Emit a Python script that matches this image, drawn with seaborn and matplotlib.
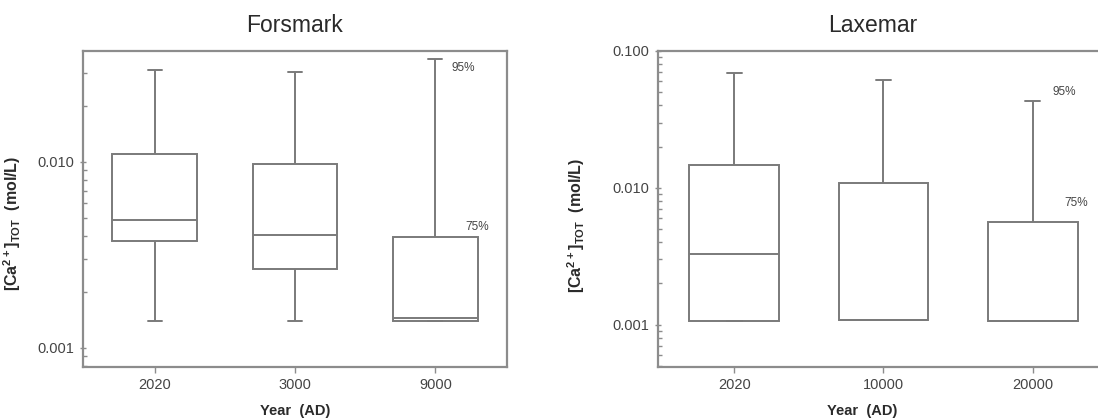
import numpy as np
import pandas as pd
import matplotlib
matplotlib.use("Agg")
import matplotlib.pyplot as plt
import matplotlib.ticker as mticker
import seaborn as sns

# ---------------- data ----------------
fors_years = ["2020", "3000", "9000"]
fors_p5 = [0.0014, 0.0014, 0.0014]
fors_q1 = [0.00376, 0.00266, 0.0014]
fors_med = [0.00488, 0.00405, 0.00145]
fors_q3 = [0.0110, 0.0097, 0.00397]
fors_p95 = [0.0313, 0.0305, 0.0356]

lax_years = ["2020", "10000", "20000"]
lax_p5 = [0.00107, 0.00108, 0.00107]
lax_q1 = [0.00107, 0.00108, 0.00107]
lax_med = [0.0033, 0.00108, 0.00107]
lax_q3 = [0.0148, 0.0109, 0.00567]
lax_p95 = [0.0695, 0.0614, 0.0434]

titles = ["Forsmark", "Laxemar"]
ylabel = r"[Ca$^{\mathbf{2+}}$]$_{\mathbf{TOT}}$  (mol/L)"
xlabel = "Year  (AD)"


def long_frame(years, p5, q1, med, q3, p95):
    rows = []
    for i, y in enumerate(years):
        for v in (p5[i], q1[i], med[i], q3[i], p95[i]):
            rows.append({"year": y, "conc": v})
    return pd.DataFrame(rows)


df_f = long_frame(fors_years, fors_p5, fors_q1, fors_med, fors_q3, fors_p95)
df_l = long_frame(lax_years, lax_p5, lax_q1, lax_med, lax_q3, lax_p95)

sns.set_theme(style="ticks")
plt.rcParams["font.family"] = ["Liberation Sans", "DejaVu Sans"]
plt.rcParams["mathtext.fontset"] = "custom"
plt.rcParams["mathtext.rm"] = "Liberation Sans"
plt.rcParams["mathtext.bf"] = "Liberation Sans:bold"

fig = plt.figure(figsize=(10.98, 4.19), dpi=100)
W, H = 1098.0, 419.0
ax1 = fig.add_axes([83 / W, (H - 367) / H, 424 / W, 316 / H])
ax2 = fig.add_axes([658 / W, (H - 367) / H, 451 / W, 316 / H])

line_c = "#7a7a7a"
spine_c = "#8c8c8c"
text_c = "#2a2a2a"

for ax, df, years in ((ax1, df_f, fors_years), (ax2, df_l, lax_years)):
    ax.set_yscale("log")
    sns.boxplot(data=df, x="year", y="conc", order=years, ax=ax,
                whis=(0, 100), width=0.6, color="white", linecolor=line_c,
                linewidth=1.4, showfliers=False, capwidths=0.1)
    for s in ax.spines.values():
        s.set_color(spine_c)
        s.set_linewidth(1.6)
    ax.set_xlim(-0.51, 2.51)
    ax.set_xlabel(xlabel, fontsize=10.5, fontweight="bold", color=text_c)
    ax.set_ylabel(ylabel, fontsize=11.5, fontweight="bold", color=text_c)
    ax.tick_params(axis="both", which="major", direction="inout", length=5,
                   width=1, color=spine_c, labelsize=10.5, labelcolor="#444444")
    ax.tick_params(axis="y", which="minor", direction="in", length=3,
                   width=1, color=spine_c)
    ax.tick_params(axis="x", which="major", direction="out", length=4, pad=4)
    ax.yaxis.set_major_formatter(mticker.FormatStrFormatter("%.3f"))
    ax.yaxis.set_minor_formatter(mticker.NullFormatter())

ax1.set_ylim(0.00079, 0.0395)
ax1.set_yticks([0.001, 0.01])
ax2.set_ylim(0.00049, 0.1)
ax2.set_yticks([0.001, 0.01, 0.1])

ax1.xaxis.set_label_coords(0.5, -0.118)
ax2.xaxis.set_label_coords(0.452, -0.118)
ax1.yaxis.set_label_coords(-0.1415, 0.455)
ax2.yaxis.set_label_coords(-0.157, 0.447)

ax1.text(0.5, 1.082, titles[0], transform=ax1.transAxes, ha="center",
         va="center", fontsize=16.5, color=text_c)
ax2.text(0.477, 1.082, titles[1], transform=ax2.transAxes, ha="center",
         va="center", fontsize=16.5, color=text_c)

ax1.text(2.2, 0.032, "95%", ha="center", va="center", fontsize=8.5, color="#444444")
ax1.text(2.3, 0.00448, "75%", ha="center", va="center", fontsize=8.5, color="#444444")
ax2.text(2.21, 0.0501, "95%", ha="center", va="center", fontsize=8.5, color="#444444")
ax2.text(2.29, 0.00777, "75%", ha="center", va="center", fontsize=8.5, color="#444444")

fig.savefig("out.png", dpi=100)
